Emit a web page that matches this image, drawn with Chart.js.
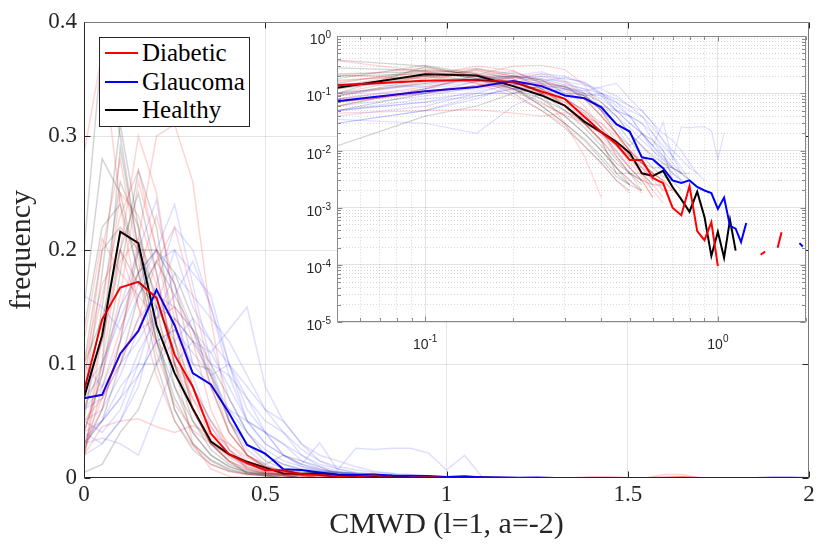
<!DOCTYPE html>
<html>
<head>
<meta charset="utf-8">
<script src="https://cdn.jsdelivr.net/npm/chart.js@4.4.1/dist/chart.umd.min.js"></script>
<style>
  html, body { margin: 0; padding: 0; background: #fff; }
  #wrap { position: relative; width: 819px; height: 549px; overflow: hidden; }
  #main { position: absolute; left: 0; top: 0; }
  #inset { position: absolute; left: 290px; top: 26px; }
  #legend {
    position: absolute; left: 99px; top: 37px; width: 151px; height: 90px;
    border: 1px solid #262626; background: #fff; box-sizing: border-box;
    font-family: "Liberation Serif", serif; font-size: 25px; color: #000;
  }
  .row { position: absolute; left: 0; height: 28px; line-height: 28px; white-space: nowrap; }
  .row i { position: absolute; left: 5px; top: 13px; width: 33px; height: 2px; }
  .row span { position: absolute; left: 42px; top: 0; }
</style>
</head>
<body>
<div id="wrap">
  <canvas id="main" width="819" height="549"></canvas>
  <canvas id="inset" width="525" height="330"></canvas>
  <div id="legend">
    <div class="row" style="top:1px"><i style="background:#ff0000"></i><span>Diabetic</span></div>
    <div class="row" style="top:30px"><i style="background:#0000ff"></i><span>Glaucoma</span></div>
    <div class="row" style="top:58px"><i style="background:#000000"></i><span>Healthy</span></div>
  </div>
</div>
<script>
const bins = [0, 0.05, 0.1, 0.15, 0.2, 0.25, 0.3, 0.35, 0.4, 0.45, 0.5, 0.55, 0.6, 0.65, 0.7, 0.75, 0.8, 0.85, 0.9, 0.95, 1,
  1.05, 1.1, 1.15, 1.2, 1.25, 1.3, 1.35, 1.4, 1.45, 1.5, 1.55, 1.6, 1.65, 1.7, 1.75, 1.8, 1.85, 1.9, 1.95, 2];

// mean histograms per group
const diabeticMean = [0.076, 0.139, 0.167, 0.172, 0.158, 0.108, 0.08, 0.039, 0.021, 0.013, 0.0068, 0.0068, 0.0033, 0.0027, 0.001, 0.00074, 0.0024, 0.00039, 0.00027, 0.00056, 0.000095,
  0, 0, 0, 0, 0, 0, 0, 0.00015, 0.00017, 0, 0, 0.0002, 0.00037, 0, 0, 0, 0, 0, 0, 0];
const glaucomaMean = [0.07, 0.073, 0.109, 0.129, 0.165, 0.134, 0.092, 0.082, 0.057, 0.029, 0.0215, 0.0076, 0.007, 0.0049, 0.003, 0.0027, 0.003, 0.0023, 0.002, 0.0018, 0.00095,
  0.0015, 0.00048, 0.00043, 0.00025, 0.00054, 0, 0, 0, 0, 0, 0, 0, 0, 0, 0, 0, 0, 0.00024, 0.00021, 0];
const healthyMean = [0.0705, 0.125, 0.216, 0.206, 0.134, 0.092, 0.061, 0.032, 0.021, 0.0142, 0.0091, 0.004, 0.0036, 0.0044, 0.0023, 0.0014, 0.00085, 0.0019, 0.00069, 0.000143, 0.00038,
  0.000133, 0.00061, 0.000177, 0, 0, 0, 0, 0, 0, 0, 0, 0, 0, 0, 0, 0, 0, 0, 0, 0];

// individual subjects
const diabeticRuns = [
  [0.285, 0.373, 0.24, 0.15, 0.09, 0.05, 0.028, 0.012, 0.006, 0.003, 0.0018, 0, 0, 0, 0, 0, 0, 0, 0, 0, 0,
    0, 0, 0, 0, 0, 0, 0, 0, 0, 0, 0, 0, 0, 0, 0, 0, 0, 0, 0, 0],
  [0.03, 0.06, 0.12, 0.21, 0.3, 0.31, 0.26, 0.14, 0.05, 0.02, 0.008, 0.004, 0.002, 0, 0, 0, 0, 0, 0, 0, 0,
    0, 0, 0, 0, 0, 0, 0, 0, 0, 0, 0, 0, 0, 0, 0, 0, 0, 0, 0, 0],
  [0.02, 0.045, 0.05, 0.052, 0.045, 0.04, 0.046, 0.038, 0.03, 0.018, 0.01, 0.006, 0.004, 0.003, 0.002, 0, 0, 0, 0, 0, 0,
    0, 0, 0, 0, 0, 0, 0, 0, 0, 0, 0, 0, 0, 0, 0, 0, 0, 0, 0, 0],
  [0.06, 0.12, 0.19, 0.21, 0.17, 0.11, 0.07, 0.035, 0.018, 0.009, 0.005, 0.003, 0.0015, 0, 0, 0, 0, 0, 0, 0, 0,
    0, 0, 0, 0, 0, 0, 0, 0, 0, 0, 0, 0, 0, 0, 0, 0, 0, 0, 0, 0],
  [0.015, 0.13, 0.25, 0.23, 0.18, 0.1, 0.03, 0.008, 0.0015, 0, 0, 0, 0, 0, 0, 0, 0, 0, 0, 0, 0,
    0, 0, 0, 0, 0, 0, 0, 0, 0, 0, 0, 0, 0, 0, 0, 0, 0, 0, 0, 0],
  [0.1, 0.17, 0.2, 0.15, 0.12, 0.1, 0.08, 0.05, 0.03, 0.015, 0.008, 0.005, 0.003, 0.002, 0.002, 0.0015, 0, 0, 0, 0, 0,
    0, 0, 0, 0, 0, 0, 0, 0, 0, 0, 0, 0.003, 0.003, 0, 0, 0, 0, 0, 0, 0],
  [0.02, 0.08, 0.13, 0.18, 0.23, 0.17, 0.12, 0.06, 0.025, 0.012, 0.006, 0.0035, 0.002, 0.0012, 0, 0, 0, 0, 0, 0, 0,
    0, 0, 0, 0, 0, 0, 0, 0, 0, 0, 0, 0, 0, 0, 0, 0, 0, 0, 0, 0],
  [0.08, 0.2, 0.28, 0.19, 0.11, 0.065, 0.042, 0.03, 0.02, 0.012, 0.007, 0.004, 0.0025, 0.0015, 0, 0, 0, 0, 0, 0, 0,
    0, 0, 0, 0, 0, 0, 0, 0, 0, 0, 0, 0, 0, 0, 0, 0, 0, 0, 0, 0],
  [0.04, 0.09, 0.16, 0.26, 0.2, 0.14, 0.06, 0.03, 0.014, 0.005, 0.003, 0.0018, 0, 0, 0, 0, 0, 0, 0, 0, 0,
    0, 0, 0, 0, 0, 0, 0, 0, 0, 0, 0, 0, 0, 0, 0, 0, 0, 0, 0, 0],
  [0.05, 0.07, 0.11, 0.13, 0.14, 0.15, 0.13, 0.08, 0.04, 0.02, 0.01, 0.006, 0.004, 0.002, 0, 0, 0, 0, 0, 0, 0,
    0, 0, 0, 0, 0, 0, 0, 0, 0, 0, 0, 0, 0, 0, 0, 0, 0, 0, 0, 0],
  [0.09, 0.16, 0.23, 0.27, 0.2, 0.12, 0.06, 0.03, 0.015, 0.008, 0.004, 0.002, 0, 0, 0, 0, 0, 0, 0, 0, 0,
    0, 0, 0, 0, 0, 0, 0, 0, 0, 0, 0, 0, 0, 0, 0, 0, 0, 0, 0, 0],
  [0.04, 0.1, 0.2, 0.3, 0.25, 0.15, 0.08, 0.04, 0.02, 0.01, 0.005, 0.003, 0.0015, 0, 0, 0, 0, 0, 0, 0, 0,
    0, 0, 0, 0, 0, 0, 0, 0, 0, 0, 0, 0, 0, 0, 0, 0, 0, 0, 0, 0],
  [0.12, 0.21, 0.18, 0.16, 0.14, 0.1, 0.07, 0.045, 0.025, 0.014, 0.008, 0.005, 0.004, 0.003, 0.002, 0, 0, 0, 0, 0, 0,
    0, 0, 0, 0, 0, 0, 0, 0, 0, 0, 0, 0, 0, 0, 0, 0, 0, 0, 0, 0],
  [0.03, 0.07, 0.1, 0.14, 0.19, 0.22, 0.16, 0.09, 0.04, 0.02, 0.01, 0.005, 0.003, 0, 0, 0, 0, 0, 0, 0, 0,
    0, 0, 0, 0, 0, 0, 0, 0, 0, 0, 0, 0, 0, 0, 0, 0, 0, 0, 0, 0],
];
const glaucomaRuns = [
  [0.16, 0.15, 0.13, 0.17, 0.2, 0.24, 0.17, 0.1, 0.05, 0.025, 0.012, 0.006, 0.003, 0, 0, 0, 0, 0, 0, 0, 0,
    0, 0, 0, 0, 0, 0, 0, 0, 0, 0, 0, 0, 0, 0, 0, 0, 0, 0, 0, 0],
  [0.05, 0.04, 0.06, 0.1, 0.15, 0.2, 0.18, 0.16, 0.1, 0.05, 0.03, 0.02, 0.012, 0.007, 0.004, 0.003, 0.002, 0, 0, 0, 0,
    0, 0, 0, 0, 0, 0, 0, 0, 0, 0, 0, 0, 0, 0, 0, 0, 0, 0, 0, 0],
  [0.02, 0.03, 0.05, 0.08, 0.14, 0.16, 0.19, 0.15, 0.1, 0.07, 0.04, 0.02, 0.01, 0.006, 0.004, 0.003, 0, 0, 0, 0, 0,
    0, 0, 0, 0, 0, 0, 0, 0, 0, 0, 0, 0, 0, 0, 0, 0, 0, 0, 0, 0],
  [0.04, 0.03, 0.05, 0.09, 0.12, 0.13, 0.11, 0.09, 0.1, 0.06, 0.04, 0.03, 0.015, 0.008, 0.005, 0.003, 0, 0, 0, 0, 0,
    0, 0, 0, 0, 0, 0, 0, 0, 0, 0, 0, 0, 0, 0, 0, 0, 0, 0, 0, 0],
  [0.03, 0.05, 0.07, 0.09, 0.12, 0.13, 0.1, 0.08, 0.06, 0.05, 0.04, 0.02, 0.012, 0.031, 0.007, 0.026, 0.025, 0.026, 0.026, 0.022, 0.007,
    0.02, 0, 0, 0, 0, 0, 0, 0, 0, 0, 0, 0, 0, 0, 0, 0, 0, 0, 0, 0],
  [0.07, 0.09, 0.15, 0.2, 0.244, 0.15, 0.09, 0.045, 0.02, 0.01, 0.005, 0.003, 0, 0, 0, 0, 0, 0, 0, 0, 0,
    0, 0, 0, 0, 0, 0, 0, 0, 0, 0, 0, 0, 0, 0, 0, 0, 0, 0, 0, 0],
  [0.1, 0.08, 0.1, 0.12, 0.15, 0.14, 0.12, 0.1, 0.09, 0.07, 0.05, 0.04, 0.02, 0.01, 0.006, 0.004, 0, 0, 0, 0, 0,
    0, 0, 0, 0, 0, 0, 0, 0, 0, 0, 0, 0, 0, 0, 0, 0, 0, 0, 0, 0],
  [0.04, 0.05, 0.08, 0.1, 0.1, 0.12, 0.14, 0.12, 0.1, 0.08, 0.06, 0.05, 0.03, 0.02, 0.015, 0.01, 0.006, 0.004, 0, 0, 0,
    0, 0, 0, 0, 0, 0, 0, 0, 0, 0, 0, 0, 0, 0, 0, 0, 0, 0, 0, 0],
  [0.06, 0.08, 0.12, 0.16, 0.19, 0.2, 0.15, 0.12, 0.07, 0.04, 0.02, 0.012, 0.007, 0.004, 0, 0, 0, 0, 0, 0, 0,
    0, 0, 0, 0, 0, 0, 0, 0, 0, 0, 0, 0, 0, 0, 0, 0, 0, 0, 0, 0],
  [0.03, 0.035, 0.03, 0.02, 0.06, 0.1, 0.12, 0.11, 0.13, 0.15, 0.08, 0.05, 0.03, 0.015, 0.008, 0.004, 0, 0, 0, 0, 0,
    0, 0, 0, 0, 0, 0, 0, 0, 0, 0, 0, 0, 0, 0, 0, 0, 0, 0, 0, 0],
  [0.08, 0.1, 0.14, 0.18, 0.2, 0.17, 0.13, 0.09, 0.06, 0.04, 0.025, 0.015, 0.01, 0.007, 0.005, 0.004, 0.003, 0, 0, 0, 0,
    0, 0, 0, 0, 0, 0, 0, 0, 0, 0, 0, 0, 0, 0, 0, 0, 0, 0, 0, 0],
  [0.05, 0.06, 0.09, 0.13, 0.17, 0.22, 0.2, 0.15, 0.09, 0.05, 0.03, 0.02, 0.012, 0.008, 0.005, 0, 0, 0, 0, 0, 0,
    0, 0, 0, 0, 0, 0, 0, 0, 0, 0, 0, 0, 0, 0, 0, 0, 0, 0, 0, 0],
  [0.035, 0.05, 0.07, 0.11, 0.14, 0.18, 0.16, 0.14, 0.12, 0.09, 0.06, 0.04, 0.025, 0.015, 0.01, 0.007, 0.005, 0.004, 0.003, 0, 0,
    0, 0, 0, 0, 0, 0, 0, 0, 0, 0, 0, 0, 0, 0, 0, 0, 0, 0, 0, 0],
  [0.06, 0.07, 0.1, 0.14, 0.16, 0.15, 0.13, 0.11, 0.08, 0.05, 0.04, 0.03, 0.02, 0.012, 0.008, 0.005, 0.003, 0, 0, 0, 0,
    0, 0, 0, 0, 0, 0, 0, 0, 0, 0, 0, 0, 0, 0, 0, 0, 0, 0, 0, 0],
];
const healthyRuns = [
  [0.02, 0.1, 0.29, 0.2, 0.12, 0.07, 0.04, 0.02, 0.01, 0.005, 0.003, 0.002, 0, 0, 0, 0, 0, 0, 0, 0, 0,
    0, 0, 0, 0, 0, 0, 0, 0, 0, 0, 0, 0, 0, 0, 0, 0, 0, 0, 0, 0],
  [0.05, 0.15, 0.26, 0.22, 0.15, 0.08, 0.04, 0.02, 0.01, 0.005, 0.0025, 0, 0, 0, 0, 0, 0, 0, 0, 0, 0,
    0, 0, 0, 0, 0, 0, 0, 0, 0, 0, 0, 0, 0, 0, 0, 0, 0, 0, 0, 0],
  [0.2, 0.38, 0.3, 0.2, 0.12, 0.06, 0.03, 0.015, 0.007, 0.0035, 0.0025, 0.002, 0, 0, 0, 0, 0, 0, 0, 0, 0,
    0, 0, 0, 0, 0, 0, 0, 0, 0, 0, 0, 0, 0, 0, 0, 0, 0, 0, 0, 0],
  [0.1, 0.2, 0.22, 0.2, 0.16, 0.1, 0.05, 0.025, 0.012, 0.006, 0.004, 0.003, 0.0025, 0.0025, 0, 0, 0, 0, 0, 0, 0,
    0, 0, 0, 0, 0, 0, 0, 0, 0, 0, 0, 0, 0, 0, 0, 0, 0, 0, 0, 0],
  [0.005, 0.012, 0.04, 0.06, 0.1, 0.14, 0.12, 0.09, 0.05, 0.03, 0.015, 0.008, 0.005, 0.0035, 0.003, 0.002, 0, 0, 0, 0, 0,
    0, 0, 0, 0, 0, 0, 0, 0, 0, 0, 0, 0, 0, 0, 0, 0, 0, 0, 0, 0],
  [0.08, 0.12, 0.2, 0.25, 0.18, 0.1, 0.06, 0.03, 0.015, 0.004, 0.004, 0.004, 0.0025, 0, 0, 0, 0, 0, 0, 0, 0,
    0, 0, 0, 0, 0, 0, 0, 0, 0, 0, 0, 0, 0, 0, 0, 0, 0, 0, 0, 0],
  [0.06, 0.1, 0.15, 0.18, 0.2, 0.18, 0.14, 0.08, 0.04, 0.02, 0.01, 0.006, 0.005, 0.005, 0.005, 0.004, 0.004, 0, 0, 0, 0,
    0, 0, 0, 0, 0, 0, 0, 0, 0, 0, 0, 0, 0, 0, 0, 0, 0, 0, 0, 0],
  [0.025, 0.06, 0.12, 0.2, 0.2, 0.17, 0.1, 0.095, 0.05, 0.02, 0.012, 0.02, 0.015, 0.01, 0.003, 0, 0, 0, 0, 0, 0,
    0, 0, 0, 0, 0, 0, 0, 0, 0, 0, 0, 0, 0, 0, 0, 0, 0, 0, 0, 0],
  [0.15, 0.28, 0.25, 0.18, 0.1, 0.05, 0.025, 0.012, 0.006, 0.003, 0.002, 0, 0, 0, 0, 0, 0, 0, 0, 0, 0,
    0, 0, 0, 0, 0, 0, 0, 0, 0, 0, 0, 0, 0, 0, 0, 0, 0, 0, 0, 0],
  [0.1, 0.14, 0.2, 0.17, 0.15, 0.12, 0.08, 0.05, 0.025, 0.008, 0.004, 0.003, 0, 0, 0, 0, 0, 0, 0, 0, 0,
    0, 0, 0, 0, 0, 0, 0, 0, 0, 0, 0, 0, 0, 0, 0, 0, 0, 0, 0, 0],
  [0.13, 0.22, 0.24, 0.18, 0.12, 0.08, 0.05, 0.03, 0.02, 0.012, 0.008, 0.006, 0.004, 0.003, 0, 0, 0, 0, 0, 0, 0,
    0, 0, 0, 0, 0, 0, 0, 0, 0, 0, 0, 0, 0, 0, 0, 0, 0, 0, 0, 0],
  [0.04, 0.09, 0.18, 0.27, 0.22, 0.12, 0.06, 0.03, 0.015, 0.007, 0.004, 0.0025, 0, 0, 0, 0, 0, 0, 0, 0, 0,
    0, 0, 0, 0, 0, 0, 0, 0, 0, 0, 0, 0, 0, 0, 0, 0, 0, 0, 0, 0],
  [0.07, 0.18, 0.31, 0.22, 0.13, 0.06, 0.03, 0.016, 0.008, 0.004, 0.0025, 0, 0, 0, 0, 0, 0, 0, 0, 0, 0,
    0, 0, 0, 0, 0, 0, 0, 0, 0, 0, 0, 0, 0, 0, 0, 0, 0, 0, 0, 0],
  [0.03, 0.05, 0.1, 0.16, 0.19, 0.16, 0.13, 0.1, 0.07, 0.04, 0.02, 0.012, 0.008, 0.006, 0.005, 0.004, 0.003, 0, 0, 0, 0,
    0, 0, 0, 0, 0, 0, 0, 0, 0, 0, 0, 0, 0, 0, 0, 0, 0, 0, 0, 0],
];

const mainYTicks = ["0", "0.1", "0.2", "0.3", "0.4"];
const mainXTicks = ["0", "0.5", "1", "1.5", "2"];
const decades = [1e-5, 1e-4, 1e-3, 1e-2, 1e-1, 1];
const decadeExponents = ["-5", "-4", "-3", "-2", "-1", "0"];
const insetXTicks = [0.05, 0.06, 0.07, 0.08, 0.09, 0.1, 0.2, 0.3, 0.4, 0.5, 0.6, 0.7, 0.8, 0.9, 1, 2];

const faintRed = "rgba(255, 0, 0, 0.17)";
const faintBlue = "rgba(0, 0, 255, 0.13)";
const faintBlack = "rgba(0, 0, 0, 0.17)";

const isPow10 = (v) => Math.abs(Math.log10(v) - Math.round(Math.log10(v))) < 1e-9;
const decadeIndex = (v) => decades.findIndex((d) => Math.abs(d - v) / d < 1e-6);

const toPoints = (values, logMode) =>
  bins
    .map((x, i) => ({ x, y: logMode ? (values[i] > 0 ? values[i] : null) : values[i] }))
    .filter((p) => !logMode || p.x > 0);

const buildDatasets = (logMode) => {
  const faintWidth = logMode ? 1.2 : 1.5;
  const faint = (runs, color) =>
    runs.map((values) => ({
      data: toPoints(values, logMode),
      borderColor: color,
      borderWidth: faintWidth,
    }));
  return [
    ...faint(diabeticRuns, faintRed),
    ...faint(glaucomaRuns, faintBlue),
    ...faint(healthyRuns, faintBlack),
    { data: toPoints(diabeticMean, logMode), borderColor: "#ff0000", borderWidth: 2 },
    { data: toPoints(glaucomaMean, logMode), borderColor: "#0000ff", borderWidth: 2 },
    { data: toPoints(healthyMean, logMode), borderColor: "#000000", borderWidth: 2 },
  ].map((ds) => ({ ...ds, pointRadius: 0, tension: 0, spanGaps: false, fill: false }));
};

// white axes background and matlab style box with inward ticks
const axesBox = {
  id: "axesBox",
  beforeDraw(chart, args, opts) {
    if (!opts.fill) return;
    const { ctx, chartArea: a } = chart;
    ctx.save();
    ctx.fillStyle = "#ffffff";
    ctx.fillRect(a.left, a.top, a.right - a.left, a.bottom - a.top);
    ctx.restore();
  },
  afterDraw(chart, args, opts) {
    const { ctx, chartArea: a, scales } = chart;
    const L = Math.round(a.left) + 0.5;
    const R = Math.round(a.right) - 0.5;
    const T = Math.round(a.top) + 0.5;
    const B = Math.round(a.bottom) - 0.5;
    ctx.save();
    ctx.lineWidth = 1;
    ctx.strokeStyle = opts.color;
    ctx.beginPath();
    scales.x.ticks.forEach((t) => {
      const len = t.major === false ? opts.minor : opts.major;
      const px = Math.round(scales.x.getPixelForValue(t.value)) + 0.5;
      ctx.moveTo(px, B);
      ctx.lineTo(px, B - len);
      ctx.moveTo(px, T);
      ctx.lineTo(px, T + len);
    });
    scales.y.ticks.forEach((t) => {
      const len = t.major === false ? opts.minor : opts.major;
      const py = Math.round(scales.y.getPixelForValue(t.value)) + 0.5;
      ctx.moveTo(L, py);
      ctx.lineTo(L + len, py);
      ctx.moveTo(R, py);
      ctx.lineTo(R - len, py);
    });
    ctx.stroke();
    ctx.strokeStyle = opts.farColor;
    ctx.beginPath();
    ctx.moveTo(L, T);
    ctx.lineTo(R, T);
    ctx.lineTo(R, B);
    ctx.stroke();
    ctx.strokeStyle = opts.color;
    ctx.beginPath();
    ctx.moveTo(L, T);
    ctx.lineTo(L, B);
    ctx.lineTo(R, B);
    ctx.stroke();
    ctx.restore();
  },
};

// "10" with raised exponent at the decade ticks of the log axes
const powerLabels = {
  id: "powerLabels",
  afterDraw(chart) {
    const { ctx, chartArea: a, scales } = chart;
    const baseFont = "14px 'Liberation Sans', Arial, sans-serif";
    const supFont = "10px 'Liberation Sans', Arial, sans-serif";
    const draw = (exp, x, baseY, supY) => {
      ctx.font = baseFont;
      ctx.fillText("10", x, baseY);
      const w = ctx.measureText("10").width;
      ctx.font = supFont;
      ctx.fillText(exp, x + w, supY);
    };
    const widthOf = (exp) => {
      ctx.font = baseFont;
      const w = ctx.measureText("10").width;
      ctx.font = supFont;
      return w + ctx.measureText(exp).width;
    };
    ctx.save();
    ctx.fillStyle = "#262626";
    ctx.textAlign = "left";
    ctx.textBaseline = "alphabetic";
    scales.y.ticks.forEach((t) => {
      const i = decadeIndex(t.value);
      if (i < 0) return;
      const py = scales.y.getPixelForValue(t.value);
      const exp = decadeExponents[i];
      draw(exp, a.left - 6 - widthOf(exp), py + 8, py + 2);
    });
    scales.x.ticks.forEach((t) => {
      const i = decadeIndex(t.value);
      if (i < 0) return;
      const px = scales.x.getPixelForValue(t.value);
      const exp = decadeExponents[i];
      draw(exp, px - widthOf(exp) / 2, a.bottom + 27, a.bottom + 20);
    });
    ctx.restore();
  },
};

const serif = "'Liberation Serif', 'Times New Roman', serif";
const inner = (ctx, max) =>
  ctx.tick && Math.abs(ctx.tick.value) > 1e-9 && Math.abs(ctx.tick.value - max) > 1e-9
    ? "rgba(0, 0, 0, 0.1)"
    : "rgba(0, 0, 0, 0)";

new Chart(document.getElementById("main"), {
  type: "line",
  data: { datasets: buildDatasets(false) },
  plugins: [axesBox],
  options: {
    responsive: false,
    animation: false,
    events: [],
    layout: { padding: { top: 22, right: 10, left: 0, bottom: 0 } },
    plugins: {
      legend: { display: false },
      tooltip: { enabled: false },
      axesBox: { color: "#262626", farColor: "#7a7a7a", major: 6, minor: 6 },
    },
    scales: {
      x: {
        type: "linear",
        min: 0,
        max: 2,
        ticks: {
          stepSize: 0.5,
          padding: 3,
          color: "#262626",
          font: { family: serif, size: 23 },
          maxRotation: 0,
          callback: (v) => mainXTicks[Math.round(v / 0.5)] ?? "",
        },
        grid: { color: (ctx) => inner(ctx, 2), drawTicks: false },
        border: { display: false },
        title: {
          display: true,
          text: "CMWD (l=1, a=-2)",
          color: "#262626",
          font: { family: serif, size: 30 },
          padding: { top: 0, bottom: 6 },
        },
        afterFit: (scale) => { scale.height = 71; },
      },
      y: {
        type: "linear",
        min: 0,
        max: 0.4,
        ticks: {
          stepSize: 0.1,
          padding: 7,
          color: "#262626",
          font: { family: serif, size: 23 },
          callback: (v) => mainYTicks[Math.round(v / 0.1)] ?? "",
        },
        grid: { color: (ctx) => inner(ctx, 0.4), drawTicks: false },
        border: { display: false },
        title: {
          display: true,
          text: "frequency",
          color: "#262626",
          font: { family: serif, size: 30 },
          padding: { top: 4, bottom: 0 },
        },
        afterFit: (scale) => { scale.width = 84; },
      },
    },
  },
});

const logGridColor = (ctx) => {
  if (!ctx.tick) return "rgba(0, 0, 0, 0)";
  return ctx.tick.major ? "rgba(0, 0, 0, 0.11)" : "rgba(0, 0, 0, 0.15)";
};
const logGridDash = (ctx) => (ctx.tick && !ctx.tick.major ? [1, 2] : []);

new Chart(document.getElementById("inset"), {
  type: "line",
  data: { datasets: buildDatasets(true) },
  plugins: [axesBox, powerLabels],
  options: {
    responsive: false,
    animation: false,
    events: [],
    layout: { padding: { top: 10, right: 9, left: 0, bottom: 0 } },
    plugins: {
      legend: { display: false },
      tooltip: { enabled: false },
      axesBox: { fill: true, color: "#8a8a8a", farColor: "#8a8a8a", major: 5, minor: 3.5 },
    },
    scales: {
      x: {
        type: "logarithmic",
        min: 0.05,
        max: 2,
        afterBuildTicks: (scale) => {
          scale.ticks = insetXTicks.map((v) => ({ value: v, major: isPow10(v) }));
        },
        ticks: { autoSkip: false, maxRotation: 0, callback: () => "" },
        grid: { color: logGridColor, drawTicks: false },
        border: { display: false, dash: logGridDash },
        afterFit: (scale) => { scale.height = 34; },
      },
      y: {
        type: "logarithmic",
        min: 1e-5,
        max: 1,
        afterBuildTicks: (scale) => {
          const list = [];
          decades.forEach((d, i) => {
            const steps = i < decades.length - 1 ? [1, 2, 3, 4, 5, 6, 7, 8, 9] : [1];
            steps.forEach((s) => list.push({ value: s * d, major: s === 1 }));
          });
          scale.ticks = list;
        },
        ticks: { autoSkip: false, callback: () => "" },
        grid: { color: logGridColor, drawTicks: false },
        border: { display: false, dash: logGridDash },
        afterFit: (scale) => { scale.width = 47; },
      },
    },
  },
});
</script>
</body>
</html>
